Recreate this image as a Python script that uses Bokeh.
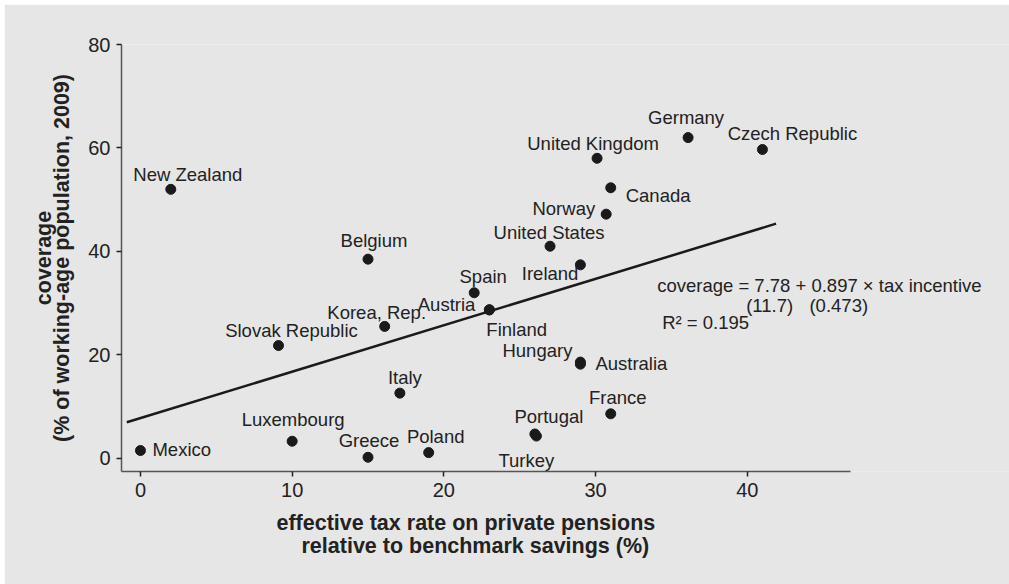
import numpy as np
from bokeh.plotting import figure
from bokeh.models import ColumnDataSource, LabelSet, Label, Range1d, FixedTicker, Title
from bokeh.core.properties import value
from bokeh.embed import file_html
from bokeh.resources import INLINE

# ---- data -------------------------------------------------------------
countries = [
    "New Zealand", "Belgium", "Korea, Rep.", "Slovak Republic", "Mexico",
    "Luxembourg", "Greece", "Poland", "Italy", "Spain", "Austria", "Finland",
    "Hungary", "Australia", "France", "Portugal", "Turkey", "Germany",
    "United Kingdom", "Canada", "Norway", "United States", "Ireland",
    "Czech Republic",
]
tax_rate = [2.0, 15.0, 16.1, 9.1, 0.0, 10.0, 15.0, 19.0, 17.1, 22.0, 23.0, 23.0,
            29.0, 29.0, 31.0, 26.0, 26.1, 36.1, 30.1, 31.0, 30.7, 27.0, 29.0, 41.0]
coverage = [52.0, 38.5, 25.5, 21.8, 1.5, 3.3, 0.2, 1.1, 12.6, 32.0, 28.7, 28.7,
            18.6, 18.2, 8.6, 4.7, 4.3, 62.0, 58.0, 52.3, 47.2, 41.0, 37.4, 59.7]

x_ticks = [0, 10, 20, 30, 40]
y_ticks = [0, 20, 40, 60, 80]

# fitted regression: coverage = a + b * tax incentive
fit_intercept = 7.78
fit_slope = 0.897
fit_intercept_se = 11.7
fit_slope_se = 0.473
fit_r2 = 0.195
fit_span = [-0.9, 41.9]

# ---- label placement (alignment, dx px, dy px; dy positive = down) -----
label_place = {
    "New Zealand": ("center", 17, -8),
    "Belgium": ("center", 6, -12),
    "Korea, Rep.": ("center", -8, -7),
    "Slovak Republic": ("center", 13, -9),
    "Mexico": ("left", 12, 5),
    "Luxembourg": ("center", 1, -15),
    "Greece": ("center", 1, -10),
    "Poland": ("center", 7, -10),
    "Italy": ("center", 5, -9),
    "Spain": ("center", 9, -10),
    "Austria": ("right", -14, 1),
    "Finland": ("left", -3, 26),
    "Hungary": ("right", -8, -5),
    "Australia": ("left", 15, 6),
    "France": ("center", 7, -10),
    "Portugal": ("center", 14, -11),
    "Turkey": ("center", -10, 31),
    "Germany": ("center", -2, -14),
    "United Kingdom": ("center", -4, -8),
    "Canada": ("left", 15, 14),
    "Norway": ("right", -11, 1),
    "United States": ("center", -1, -7),
    "Ireland": ("right", -2, 15),
    "Czech Republic": ("center", 30, -10),
}

BG = "#e6e6e6"
INK = "#222222"
FONT = "Liberation Sans"

X_START, X_AXIS_END = -1.25, 46.78
PX_PER_X = 15.17
FRAME_W = 888

p = figure(
    width=1005, height=580,
    x_range=Range1d(X_START, X_START + FRAME_W / PX_PER_X),
    y_range=Range1d(-2.55, 80),
    output_backend="svg", toolbar_location=None,
    min_border_left=117, min_border_right=0,
    min_border_top=40, min_border_bottom=113,
    background_fill_color=BG, border_fill_color=BG,
    outline_line_color=None,
)
p.margin = (4, 0, 0, 4)

p.xgrid.visible = False
p.ygrid.visible = False

p.xaxis.ticker = FixedTicker(ticks=x_ticks)
p.yaxis.ticker = FixedTicker(ticks=y_ticks)
p.xaxis.bounds = (X_START, X_AXIS_END)
for ax in (p.xaxis, p.yaxis):
    ax.axis_line_color = "#555555"
    ax.axis_line_width = 1.5
    ax.major_tick_line_color = INK
    ax.major_tick_line_width = 1.5
    ax.major_tick_out = 5
    ax.major_tick_in = 0
    ax.minor_tick_line_color = None
    ax.major_label_text_font = FONT
    ax.major_label_text_font_size = "20px"
    ax.major_label_text_color = INK
    ax.major_label_standoff = 6
    # blank axis label used only as a spacer before the title lines
    ax.axis_label = "\u00a0"
    ax.axis_label_text_font_size = "1px"
p.xaxis.axis_label_standoff = 5
p.yaxis.axis_label_standoff = 7

# regression line
fx = np.array(fit_span)
fy = fit_intercept + fit_slope * fx
p.line(fx, fy, line_width=2.5, line_color="#1a1a1a")

# country points
src = ColumnDataSource(dict(x=tax_rate, y=coverage, name=countries))
p.scatter("x", "y", source=src, size=10, fill_color="#1a1a1a",
          line_color="#1a1a1a")

# country names, grouped by alignment
for align in ("left", "center", "right"):
    sel = [i for i, c in enumerate(countries) if label_place[c][0] == align]
    ls_src = ColumnDataSource(dict(
        x=[tax_rate[i] for i in sel],
        y=[coverage[i] for i in sel],
        name=[countries[i] for i in sel],
        dx=[label_place[countries[i]][1] for i in sel],
        dy=[-label_place[countries[i]][2] for i in sel],
    ))
    p.add_layout(LabelSet(
        x="x", y="y", text="name", x_offset="dx", y_offset="dy",
        source=ls_src, text_align=value(align),
        text_baseline=value("alphabetic"),
        text_font=value(FONT), text_font_size=value("18.5px"),
        text_color=value(INK),
    ))

# regression annotation
eq_style = dict(text_font=FONT, text_font_size="18.5px", text_color=INK,
                text_baseline="alphabetic", text_align="left")
p.add_layout(Label(x=34.06, y=33.4,
                   text=f"coverage = {fit_intercept} + {fit_slope} \u00d7 tax incentive",
                   **eq_style))
p.add_layout(Label(x=39.93, y=29.6, text=f"({fit_intercept_se})", **eq_style))
p.add_layout(Label(x=44.1, y=29.6, text=f"({fit_slope_se})", **eq_style))
p.add_layout(Label(x=34.39, y=26.3, text=f"R\u00b2 = {fit_r2}", **eq_style))

# axis titles
title_style = dict(text_font=FONT, text_font_size="21.5px",
                   text_font_style="bold", text_color=INK)
p.add_layout(Title(text="effective tax rate on private pensions",
                   align="left", offset=155, standoff=0, **title_style), "below")
p.add_layout(Title(text="relative to benchmark savings (%)",
                   align="left", offset=180, standoff=-6, **title_style), "below")
p.add_layout(Title(text="(% of working-age population, 2009)",
                   align="center", standoff=2, **title_style), "left")
p.add_layout(Title(text="coverage",
                   align="center", standoff=-19, **title_style), "left")

open("out.html", "w").write(file_html(p, INLINE))
